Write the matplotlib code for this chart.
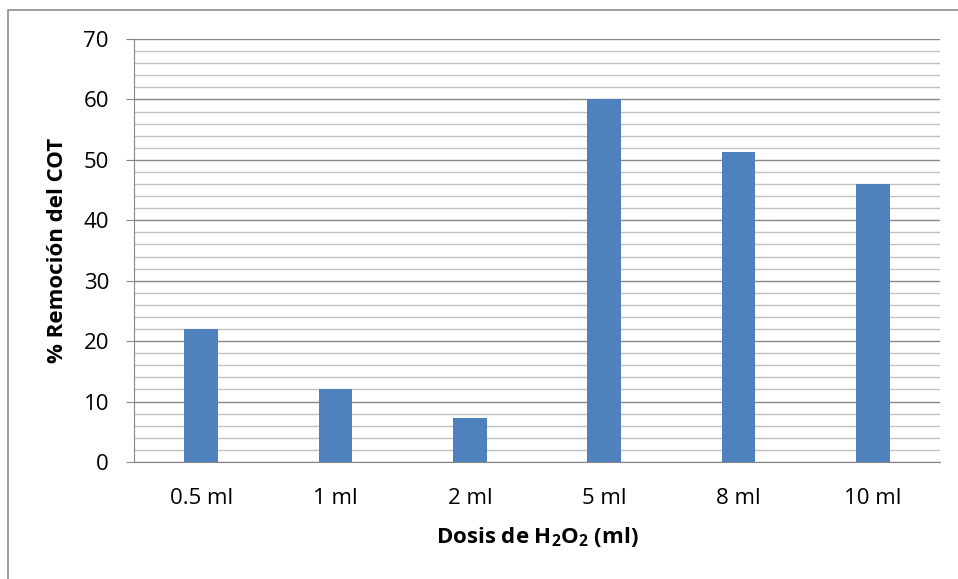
import matplotlib.pyplot as plt
from matplotlib.patches import Rectangle
from matplotlib.ticker import MultipleLocator

# Data
doses = ["0.5 ml", "1 ml", "2 ml", "5 ml", "8 ml", "10 ml"]
removal = [22, 12, 7.3, 60, 51.3, 46]

plt.rcParams['font.family'] = ['Open Sans', 'DejaVu Sans']
plt.rcParams['mathtext.fontset'] = 'custom'
plt.rcParams['mathtext.rm'] = 'Open Sans'
plt.rcParams['mathtext.bf'] = 'Open Sans:bold'

fig = plt.figure(figsize=(9.58, 5.79), dpi=100)
ax = fig.add_axes([134 / 958, 117 / 579, 806 / 958, 423 / 579])

# outer chart border (Excel style)
fig.patches.append(Rectangle((8 / 958, -0.1), 1.2, (579 - 10) / 579 + 0.1,
                             transform=fig.transFigure, fill=False,
                             edgecolor='#8c8c8c', linewidth=1.2))

x = range(len(doses))
ax.bar(x, removal, width=0.25, color='#4F81BD', zorder=3)

ax.set_xlim(-0.5, len(doses) - 0.5)
ax.set_ylim(0, 70)
ax.yaxis.set_major_locator(MultipleLocator(10))
ax.yaxis.set_minor_locator(MultipleLocator(2))
ax.set_xticks(list(x))
ax.set_xticklabels(doses)

ax.grid(which='major', axis='y', color='#878787', linewidth=1.0, zorder=0)
ax.grid(which='minor', axis='y', color='#c0c0c0', linewidth=1.0, zorder=0)

for side in ['top', 'right']:
    ax.spines[side].set_visible(False)
ax.spines['left'].set_color('#878787')
ax.spines['bottom'].set_color('#878787')

ax.tick_params(axis='x', length=0, pad=19, labelsize=16)
ax.tick_params(axis='y', which='major', length=6, color='#878787',
               pad=12, labelsize=16)
ax.tick_params(axis='y', which='minor', length=0)

ax.set_ylabel("% Remoción del COT", fontsize=16, fontweight='bold')
ax.yaxis.set_label_coords(-0.082, 0.5)
ax.set_xlabel(r"Dosis de H$_\mathbf{2}$O$_\mathbf{2}$ (ml)", fontsize=16,
              fontweight='bold')
ax.xaxis.set_label_coords(0.5, -0.148)

fig.savefig("out.png", dpi=100)
